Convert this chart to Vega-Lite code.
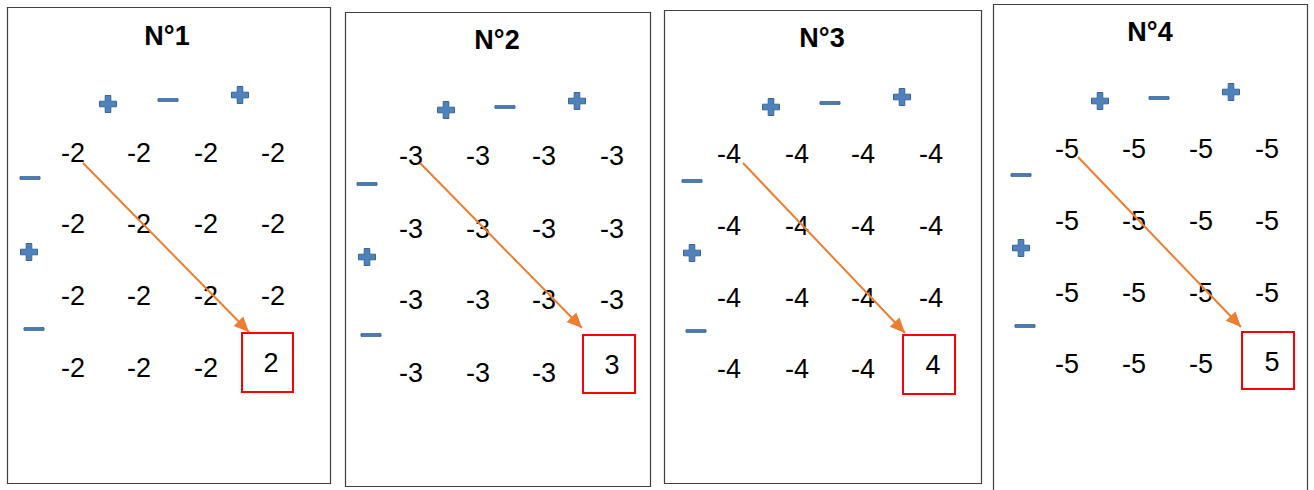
{
  "$schema": "https://vega.github.io/schema/vega-lite/v6.json",
  "autosize": {"type": "fit", "contains": "padding"},
  "width": 1314,
  "height": 490,
  "padding": 0,
  "background": "white",
  "config": {"view": {"stroke": null}},
  "datasets": {
    "panels": [
      {"p": "N°1", "x": 7.5, "x2": 330.5, "y": 7.5, "y2": 483.5},
      {"p": "N°2", "x": 345.5, "x2": 650.5, "y": 12.5, "y2": 486.5},
      {"p": "N°3", "x": 664.5, "x2": 981.5, "y": 10.5, "y2": 483.5},
      {"p": "N°4", "x": 993.5, "x2": 1307.5, "y": 4.5, "y2": 495}
    ],
    "titles": [
      {"t": "N°1", "x": 167, "y": 35},
      {"t": "N°2", "x": 497, "y": 39},
      {"t": "N°3", "x": 822, "y": 37},
      {"t": "N°4", "x": 1150, "y": 31}
    ],
    "nums": [
      {"t": "-2", "x": 73, "y": 152}, {"t": "-2", "x": 139, "y": 152}, {"t": "-2", "x": 206, "y": 152}, {"t": "-2", "x": 273, "y": 152},
      {"t": "-2", "x": 73, "y": 223}, {"t": "-2", "x": 139, "y": 223}, {"t": "-2", "x": 206, "y": 223}, {"t": "-2", "x": 273, "y": 223},
      {"t": "-2", "x": 73, "y": 295}, {"t": "-2", "x": 139, "y": 295}, {"t": "-2", "x": 206, "y": 295}, {"t": "-2", "x": 273, "y": 295},
      {"t": "-2", "x": 73, "y": 367}, {"t": "-2", "x": 139, "y": 367}, {"t": "-2", "x": 206, "y": 367}, {"t": "2", "x": 271, "y": 362},
      {"t": "-3", "x": 411, "y": 155}, {"t": "-3", "x": 478, "y": 155}, {"t": "-3", "x": 544, "y": 155}, {"t": "-3", "x": 612, "y": 155},
      {"t": "-3", "x": 411, "y": 228}, {"t": "-3", "x": 478, "y": 228}, {"t": "-3", "x": 544, "y": 228}, {"t": "-3", "x": 612, "y": 228},
      {"t": "-3", "x": 411, "y": 299}, {"t": "-3", "x": 478, "y": 299}, {"t": "-3", "x": 544, "y": 299}, {"t": "-3", "x": 612, "y": 299},
      {"t": "-3", "x": 411, "y": 372}, {"t": "-3", "x": 478, "y": 372}, {"t": "-3", "x": 544, "y": 372}, {"t": "3", "x": 612, "y": 364},
      {"t": "-4", "x": 729, "y": 153}, {"t": "-4", "x": 797, "y": 153}, {"t": "-4", "x": 863, "y": 153}, {"t": "-4", "x": 931, "y": 153},
      {"t": "-4", "x": 729, "y": 225}, {"t": "-4", "x": 797, "y": 225}, {"t": "-4", "x": 863, "y": 225}, {"t": "-4", "x": 931, "y": 225},
      {"t": "-4", "x": 729, "y": 297}, {"t": "-4", "x": 797, "y": 297}, {"t": "-4", "x": 863, "y": 297}, {"t": "-4", "x": 931, "y": 297},
      {"t": "-4", "x": 729, "y": 368}, {"t": "-4", "x": 797, "y": 368}, {"t": "-4", "x": 863, "y": 368}, {"t": "4", "x": 933, "y": 364},
      {"t": "-5", "x": 1067, "y": 148}, {"t": "-5", "x": 1134, "y": 148}, {"t": "-5", "x": 1201, "y": 148}, {"t": "-5", "x": 1267, "y": 148},
      {"t": "-5", "x": 1067, "y": 220}, {"t": "-5", "x": 1134, "y": 220}, {"t": "-5", "x": 1201, "y": 220}, {"t": "-5", "x": 1267, "y": 220},
      {"t": "-5", "x": 1067, "y": 292}, {"t": "-5", "x": 1134, "y": 292}, {"t": "-5", "x": 1201, "y": 292}, {"t": "-5", "x": 1267, "y": 292},
      {"t": "-5", "x": 1067, "y": 363}, {"t": "-5", "x": 1134, "y": 363}, {"t": "-5", "x": 1201, "y": 363}, {"t": "5", "x": 1272, "y": 361}
    ],
    "boxes": [
      {"x": 242, "x2": 293, "y": 333, "y2": 392},
      {"x": 583, "x2": 635, "y": 335, "y2": 393},
      {"x": 903, "x2": 955, "y": 335, "y2": 394},
      {"x": 1242, "x2": 1294, "y": 332, "y2": 389}
    ],
    "arrows": [
      {"x": 83, "y": 163, "x2": 249, "y2": 332, "ang": 45.5},
      {"x": 420, "y": 163, "x2": 582, "y2": 328, "ang": 45.5},
      {"x": 743, "y": 163, "x2": 905, "y2": 333, "ang": 46.4},
      {"x": 1078, "y": 157, "x2": 1241, "y2": 327, "ang": 46.2}
    ],
    "signs": [
      {"s": "+", "x": 108, "y": 104}, {"s": "-", "x": 168, "y": 100}, {"s": "+", "x": 240, "y": 95},
      {"s": "-", "x": 30, "y": 178}, {"s": "+", "x": 29, "y": 252}, {"s": "-", "x": 34, "y": 329},
      {"s": "+", "x": 446, "y": 110}, {"s": "-", "x": 505, "y": 107}, {"s": "+", "x": 577, "y": 101},
      {"s": "-", "x": 367, "y": 184}, {"s": "+", "x": 367, "y": 257}, {"s": "-", "x": 371, "y": 335},
      {"s": "+", "x": 771, "y": 107}, {"s": "-", "x": 830, "y": 103}, {"s": "+", "x": 902, "y": 97},
      {"s": "-", "x": 692, "y": 181}, {"s": "+", "x": 692, "y": 253}, {"s": "-", "x": 696, "y": 331},
      {"s": "+", "x": 1100, "y": 101}, {"s": "-", "x": 1159, "y": 98}, {"s": "+", "x": 1231, "y": 92},
      {"s": "-", "x": 1021, "y": 175}, {"s": "+", "x": 1021, "y": 248}, {"s": "-", "x": 1025, "y": 326}
    ]
  },
  "encoding": {
    "x": {"field": "x", "type": "quantitative", "scale": {"domain": [0, 1314], "nice": false, "zero": false}, "axis": null},
    "y": {"field": "y", "type": "quantitative", "scale": {"domain": [0, 490], "reverse": true, "nice": false, "zero": false}, "axis": null}
  },
  "layer": [
    {
      "data": {"name": "panels"},
      "mark": {"type": "rect", "fill": null, "stroke": "#3f3f3f", "strokeWidth": 1.2, "clip": true},
      "encoding": {
        "x2": {"field": "x2"},
        "y2": {"field": "y2"}
      }
    },
    {
      "data": {"name": "titles"},
      "mark": {"type": "text", "font": "Liberation Sans", "fontSize": 27, "fontWeight": "bold", "align": "center", "baseline": "alphabetic", "dy": 9.5, "color": "black"},
      "encoding": {"text": {"field": "t"}}
    },
    {
      "data": {"name": "boxes"},
      "mark": {"type": "rect", "fill": null, "stroke": "#ff0000", "strokeWidth": 2},
      "encoding": {
        "x2": {"field": "x2"},
        "y2": {"field": "y2"}
      }
    },
    {
      "data": {"name": "nums"},
      "mark": {"type": "text", "font": "Liberation Sans", "fontSize": 27, "align": "center", "baseline": "alphabetic", "dy": 9.5, "color": "black"},
      "encoding": {"text": {"field": "t"}}
    },
    {
      "data": {"name": "arrows"},
      "mark": {"type": "rule", "color": "#ED7D31", "strokeWidth": 2},
      "encoding": {
        "x2": {"field": "x2"},
        "y2": {"field": "y2"}
      }
    },
    {
      "data": {"name": "arrows"},
      "mark": {"type": "point", "shape": "M0,0L-1,-0.45L-1,0.45Z", "filled": true, "color": "#ED7D31", "opacity": 1, "size": 900},
      "encoding": {
        "x": {"field": "x2", "type": "quantitative"},
        "y": {"field": "y2", "type": "quantitative"},
        "angle": {"field": "ang", "type": "quantitative", "scale": null}
      }
    },
    {
      "data": {"name": "signs"},
      "transform": [{"filter": "datum.s === '+'"}],
      "mark": {"type": "point", "shape": "M-0.33,-1H0.33V-0.33H1V0.33H0.33V1H-0.33V0.33H-1V-0.33H-0.33Z", "filled": true, "fill": "#4F81BD", "stroke": "#3A6694", "strokeWidth": 1, "opacity": 1, "size": 289}
    },
    {
      "data": {"name": "signs"},
      "transform": [{"filter": "datum.s === '-'"}],
      "mark": {"type": "point", "shape": "M-1,-0.13H1V0.13H-1Z", "filled": true, "fill": "#4F81BD", "stroke": "#3A6694", "strokeWidth": 1, "opacity": 1, "size": 400}
    }
  ]
}
